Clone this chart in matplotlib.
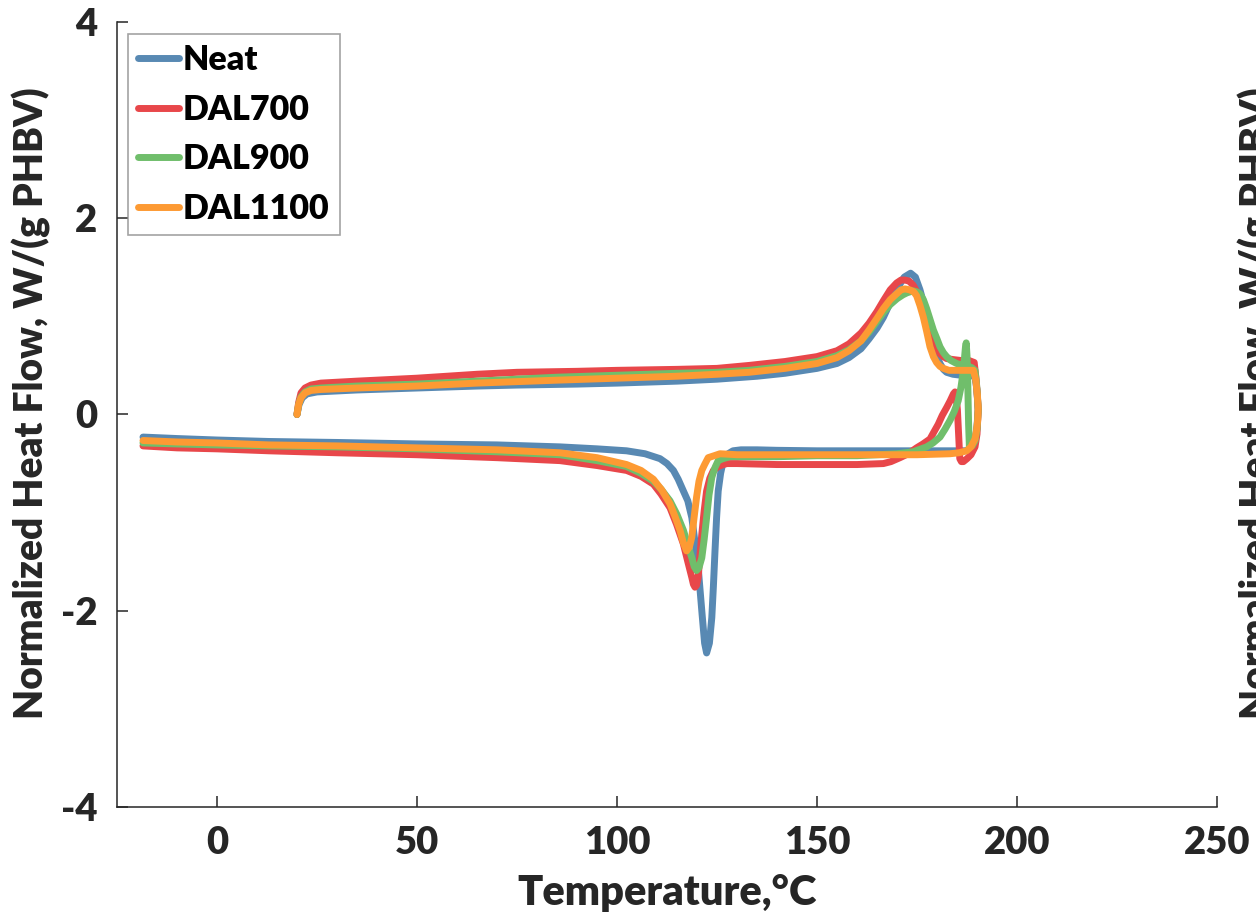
import matplotlib
matplotlib.use("Agg")
import matplotlib.pyplot as plt

plt.rcParams['font.family'] = ['Lato', 'DejaVu Sans']
plt.rcParams['font.weight'] = 'bold'
plt.rcParams['axes.unicode_minus'] = False

# DSC cycles: (temperature in °C, normalized heat flow in W/(g PHBV))
# heating 20 -> 190 °C followed by cooling 190 -> -18.5 °C
neat_heat = [(20, 0), (20.5, 0.1), (21.3, 0.17), (22.5, 0.21), (25, 0.23), (35, 0.25), (50, 0.27),
             (65, 0.29), (75, 0.30), (90, 0.31), (100, 0.32), (115, 0.34), (125, 0.36), (135, 0.39),
             (142, 0.42), (150, 0.47), (155, 0.52), (158, 0.58), (161, 0.67), (163, 0.77), (165, 0.88),
             (166.6, 0.99), (168.3, 1.14), (170, 1.28), (171.8, 1.40), (173.4, 1.44), (174.6, 1.40),
             (175.75, 1.27), (176.6, 1.14), (177.4, 0.99), (178.3, 0.83), (179.1, 0.69), (180, 0.59),
             (180.75, 0.52), (181.6, 0.46), (182.4, 0.43), (184, 0.41), (186, 0.40), (188.5, 0.40),
             (189.5, 0.38), (190.0, 0.25), (190.3, 0.05)]
neat_cool = [(190.0, -0.12), (189.5, -0.28), (188.5, -0.35), (187, -0.37), (180, -0.37), (170, -0.37),
             (160, -0.37), (150, -0.37), (140, -0.365), (135, -0.36), (131, -0.36), (129, -0.37),
             (127.8, -0.40), (126.6, -0.47), (125.9, -0.60), (125.3, -0.78), (124.9, -1.05),
             (124.5, -1.39), (124.1, -1.75), (123.7, -2.07), (123.1, -2.33), (122.4, -2.43),
             (121.9, -2.33), (121.3, -2.05), (120.3, -1.56), (119.5, -1.30), (118.7, -1.05),
             (117.7, -0.88), (116.6, -0.78), (115.3, -0.66), (114.1, -0.57), (112.5, -0.50),
             (110.75, -0.45), (107, -0.40), (102.4, -0.37), (95, -0.35), (85.75, -0.33), (70, -0.31),
             (50, -0.30), (30, -0.285), (13, -0.275), (0, -0.26), (-10, -0.245), (-18.5, -0.23)]

dal700_heat = [(20, 0), (20.4, 0.12), (21, 0.22), (22, 0.27), (23.5, 0.30), (26, 0.32), (35, 0.34),
               (50, 0.37), (65, 0.41), (75, 0.43), (90, 0.44), (100, 0.45), (115, 0.46), (125, 0.47),
               (133, 0.50), (142, 0.54), (150, 0.59), (155, 0.65), (158, 0.72), (161, 0.83), (163, 0.93),
               (165, 1.05), (166.6, 1.16), (168.3, 1.27), (169.9, 1.34), (171, 1.37), (172, 1.37),
               (173, 1.36), (174, 1.32), (175, 1.25), (175.75, 1.17), (177, 1.00), (178.25, 0.83),
               (179.5, 0.70), (180.75, 0.62), (181.6, 0.59), (182.4, 0.57), (184, 0.56), (186, 0.55),
               (188, 0.55), (189.3, 0.53), (189.8, 0.35), (190.3, 0.05)]
dal700_cool = [(190.0, -0.20), (189.5, -0.33), (188.5, -0.41), (187.5, -0.45), (186.6, -0.48),
               (186.1, -0.48), (185.7, -0.45), (185.4, -0.20), (185.1, 0.05), (184.8, 0.18),
               (184.5, 0.23), (184.1, 0.21), (183.3, 0.14), (182.4, 0.07), (181.3, -0.01),
               (180.3, -0.10), (179.2, -0.18), (178.25, -0.25), (176.5, -0.30), (174.9, -0.34),
               (172.8, -0.40), (170.75, -0.44), (168.5, -0.48), (166.6, -0.50), (160, -0.51),
               (150, -0.51), (140, -0.51), (130, -0.50), (127.5, -0.50), (126.6, -0.51), (125.3, -0.53),
               (124.1, -0.57), (123.2, -0.65), (122.4, -0.78), (121.8, -0.98), (121.2, -1.22),
               (120.7, -1.45), (120.3, -1.66), (119.9, -1.74), (119.5, -1.76), (119.1, -1.73),
               (118.7, -1.66), (117.7, -1.50), (116.6, -1.32), (114.9, -1.12), (113.25, -0.95),
               (111, -0.81), (109.1, -0.71), (106, -0.63), (102.4, -0.57), (95, -0.52), (85.75, -0.47),
               (70, -0.44), (50, -0.41), (30, -0.39), (13, -0.37), (0, -0.35), (-10, -0.34),
               (-18.5, -0.32)]

dal900_heat = [(20, 0), (20.4, 0.10), (21, 0.18), (22, 0.23), (23.5, 0.26), (26, 0.27), (35, 0.29),
               (50, 0.31), (65, 0.34), (85, 0.38), (100, 0.40), (115, 0.42), (125, 0.43), (133, 0.45),
               (142, 0.49), (150, 0.54), (155, 0.60), (158, 0.66), (161, 0.75), (163, 0.84), (165, 0.95),
               (166.6, 1.04), (168.3, 1.12), (170, 1.18), (171.5, 1.22), (172.5, 1.24), (174, 1.26),
               (175, 1.25), (175.75, 1.23), (176.6, 1.17), (177.4, 1.08), (178.25, 0.97), (179.1, 0.86),
               (180, 0.77), (180.75, 0.69), (181.6, 0.63), (182.4, 0.59), (183.5, 0.55), (184.9, 0.52),
               (186.5, 0.50), (188.6, 0.48), (189.5, 0.45), (189.9, 0.30), (190.3, 0.05)]
dal900_cool = [(190.0, -0.15), (189.5, -0.27), (188.8, -0.32), (188.1, -0.33), (187.9, -0.10),
               (187.7, 0.30), (187.5, 0.60), (187.3, 0.73), (187.1, 0.68), (186.6, 0.45), (186.0, 0.28),
               (185.3, 0.14), (184.3, 0.03), (183.25, -0.06), (182, -0.15), (180.75, -0.23),
               (179, -0.29), (177.4, -0.33), (174, -0.38), (170, -0.40), (160, -0.42), (150, -0.42),
               (140, -0.43), (130, -0.43), (128.25, -0.43), (126.5, -0.45), (125.3, -0.47),
               (124.5, -0.54), (123.7, -0.64), (123, -0.82), (122.4, -1.05), (121.8, -1.27),
               (121.2, -1.46), (120.5, -1.56), (119.9, -1.59), (119.3, -1.55), (118.7, -1.46),
               (117.7, -1.33), (116.6, -1.18), (115, -1.02), (113.25, -0.88), (111, -0.76),
               (109.1, -0.68), (106, -0.60), (102.4, -0.53), (95, -0.47), (85.75, -0.41), (70, -0.38),
               (50, -0.35), (30, -0.33), (13, -0.32), (0, -0.31), (-10, -0.30), (-18.5, -0.29)]

dal1100_heat = [(20, 0), (20.4, 0.10), (21, 0.17), (22, 0.22), (23.5, 0.245), (26, 0.255), (35, 0.27),
                (50, 0.29), (65, 0.32), (85, 0.35), (100, 0.37), (115, 0.39), (125, 0.41), (133, 0.43),
                (142, 0.47), (150, 0.52), (155, 0.58), (158, 0.65), (161, 0.75), (163, 0.86), (165, 0.98),
                (166.6, 1.08), (168.3, 1.17), (169.9, 1.23), (171, 1.27), (172, 1.28), (173.2, 1.27),
                (174.2, 1.25), (174.9, 1.21), (175.75, 1.11), (176.6, 0.99), (177.4, 0.85),
                (178.25, 0.69), (179.1, 0.59), (179.9, 0.53), (180.75, 0.49), (181.6, 0.47), (183, 0.45),
                (186, 0.45), (189.1, 0.45), (189.7, 0.35), (190.1, 0.20), (190.3, 0.07)]
dal1100_cool = [(190.2, -0.05), (189.9, -0.16), (189.5, -0.25), (188.5, -0.33), (187.4, -0.37),
                (185.5, -0.39), (183.25, -0.40), (175, -0.41), (165, -0.41), (150, -0.41), (140, -0.41),
                (130, -0.41), (125.75, -0.40), (124.3, -0.42), (122.8, -0.44), (121.9, -0.51),
                (121.2, -0.57), (120.5, -0.68), (119.9, -0.84), (119.3, -1.04), (118.7, -1.25),
                (118.1, -1.35), (117.4, -1.39), (116.6, -1.31), (115.75, -1.18), (114.5, -1.04),
                (113.25, -0.91), (111.2, -0.77), (109.1, -0.66), (106, -0.57), (102.4, -0.51),
                (95, -0.44), (85.75, -0.39), (70, -0.36), (50, -0.34), (30, -0.32), (13, -0.31),
                (0, -0.29), (-10, -0.28), (-18.5, -0.265)]

sample_names = ["Neat", "DAL700", "DAL900", "DAL1100"]
cycles = [neat_heat + neat_cool, dal700_heat + dal700_cool,
          dal900_heat + dal900_cool, dal1100_heat + dal1100_cool]
colors = ["#5889B3", "#E8474A", "#70BE6B", "#FD9A33"]

x_ticks = [0, 50, 100, 150, 200, 250]
y_ticks = [-4, -2, 0, 2, 4]
ylabel_text = "Normalized Heat Flow, W/(g PHBV)"
ink = '#262626'

fig = plt.figure(figsize=(12.56, 9.21), dpi=100)
ax = fig.add_axes([117 / 1256, 1 - 807 / 921, 1100 / 1256, 785 / 921])

for name, data, c in zip(sample_names, cycles, colors):
    t, hf = zip(*data)
    ax.plot(t, hf, color=c, lw=5.0, label=name, solid_capstyle='round', solid_joinstyle='round')

ax.set_xlim(-25, 250)
ax.set_ylim(-4, 4)
ax.set_xticks(x_ticks)
ax.set_yticks(y_ticks)
ax.spines['top'].set_visible(False)
ax.spines['right'].set_visible(False)
for s in ('left', 'bottom'):
    ax.spines[s].set_color(ink)
    ax.spines[s].set_linewidth(1.1)
ax.tick_params(direction='in', length=8, width=1.1, color=ink,
               labelsize=27.5, labelcolor=ink)
ax.tick_params(axis='x', pad=14)
ax.tick_params(axis='y', pad=14)
for lab in ax.get_xticklabels() + ax.get_yticklabels():
    lab.set_fontweight('heavy')

ax.set_xlabel("Temperature,°C", fontsize=30, fontweight='heavy', color=ink, labelpad=10)
ax.set_ylabel(ylabel_text, fontsize=28, fontweight='heavy', color=ink)
ax.yaxis.set_label_coords(-0.060, 0.515)

leg = ax.legend(loc='upper left', bbox_to_anchor=(0.01, 0.985), borderaxespad=0,
                fontsize=24.5, frameon=True, fancybox=False, handlelength=1.2,
                handletextpad=0.12, labelspacing=0.52, borderpad=0.3)
leg.get_frame().set_edgecolor('#8c8c8c')
leg.get_frame().set_linewidth(1.2)
for txt in leg.get_texts():
    txt.set_fontweight('heavy')
    txt.set_color('black')

# label of the neighbouring panel, cut by the figure edge
fig.text(1238 / 1256, 1 - 403 / 921, ylabel_text, rotation=90, fontsize=28, fontweight='heavy',
         color=ink, ha='left', va='center')

fig.savefig("out.png", dpi=100)
